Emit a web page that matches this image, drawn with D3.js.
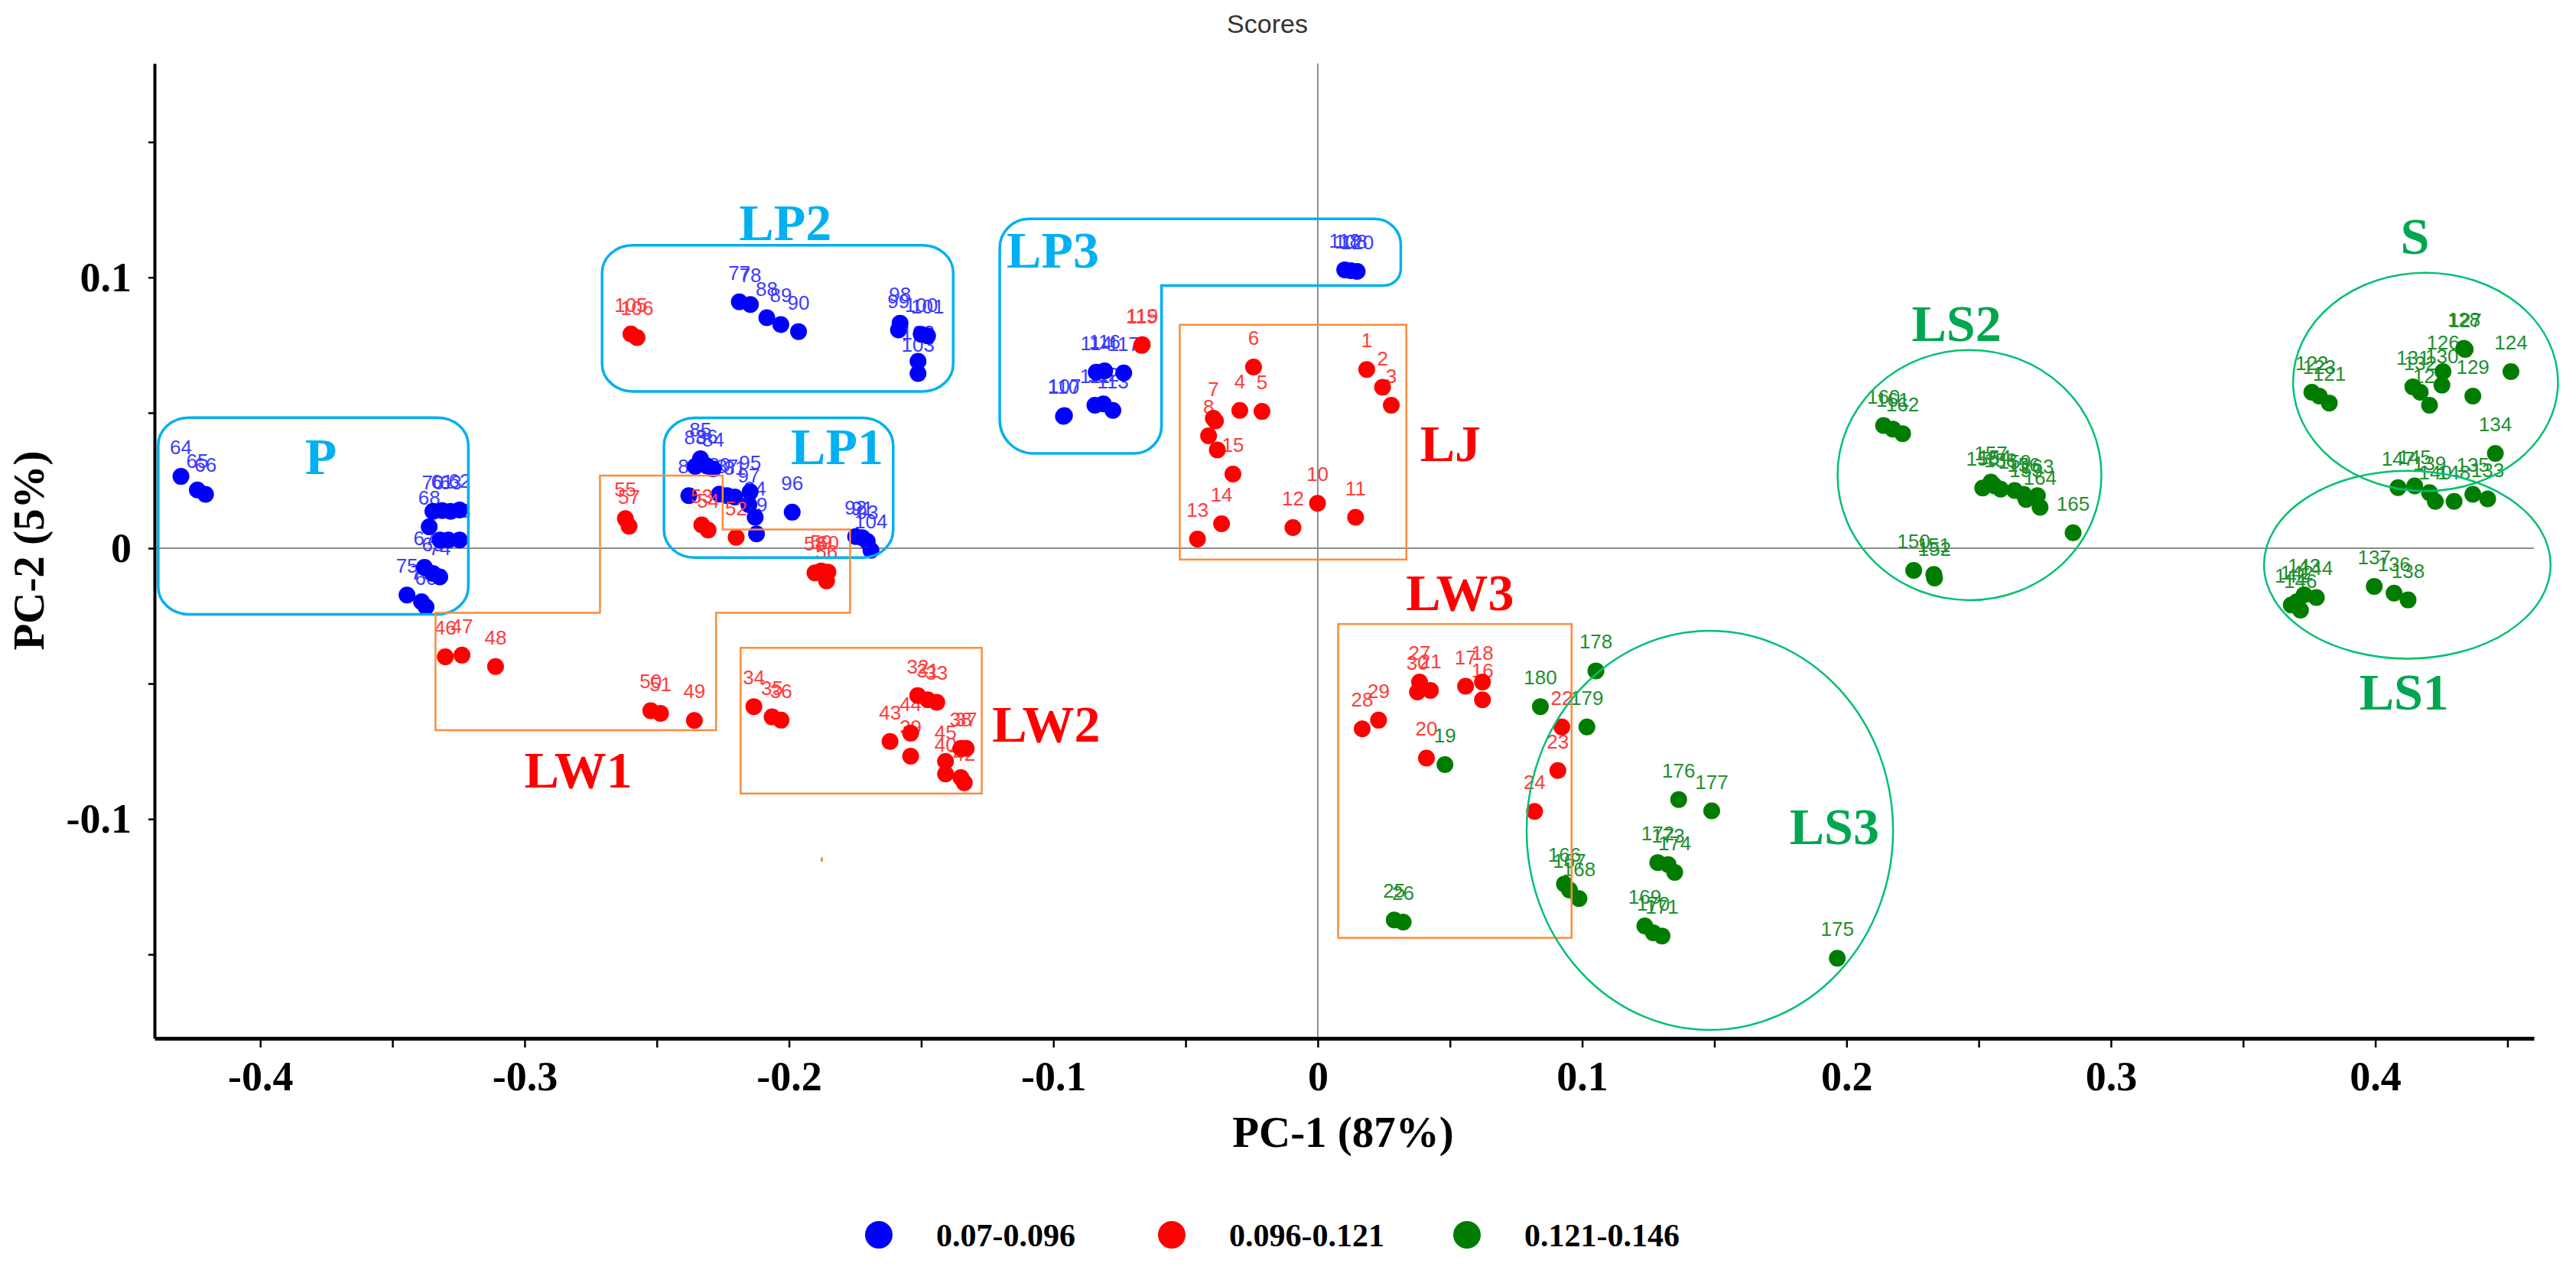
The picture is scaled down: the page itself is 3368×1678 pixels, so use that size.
<!DOCTYPE html>
<html>
<head>
<meta charset="utf-8">
<script src="https://cdn.jsdelivr.net/npm/d3@7"></script>
<style>
    body { margin: 0; background: #fff; }
    svg { display: block; }
</style>
</head>
<body>
<div id="scores-plot"></div>
<script>
// Score points: [sample label, PC-1, PC-2]
var bluePoints = [
    ["64", -0.430, 0.0265], ["65", -0.4238, 0.0215], ["66", -0.4207, 0.0199],
    ["70", -0.3347, 0.0136], ["61", -0.3312, 0.0139], ["63", -0.3280, 0.0136], ["62", -0.3246, 0.0141],
    ["68", -0.3361, 0.0079], ["71", -0.3320, 0.0030], ["72", -0.3288, 0.0030], ["73", -0.3246, 0.0030],
    ["67", -0.3379, -0.0071], ["69", -0.3347, -0.0093], ["74", -0.3321, -0.0106],
    ["75", -0.3445, -0.0173], ["76", -0.3390, -0.0198], ["60", -0.3373, -0.0217],
    ["85", -0.2335, 0.0330], ["83", -0.2355, 0.0302], ["86", -0.2311, 0.0304], ["84", -0.2287, 0.0293],
    ["82", -0.2379, 0.0194], ["80", -0.2263, 0.0200], ["87", -0.2234, 0.0194], ["81", -0.2205, 0.0189],
    ["95", -0.2147, 0.0208], ["97", -0.2152, 0.0161], ["94", -0.2128, 0.0114], ["79", -0.2123, 0.0053],
    ["96", -0.1988, 0.0133], ["92", -0.1748, 0.0043], ["91", -0.1723, 0.0039], ["93", -0.1704, 0.0025],
    ["104", -0.1690, -0.0008],
    ["77", -0.2188, 0.0910], ["78", -0.2146, 0.0900], ["88", -0.2084, 0.0851], ["89", -0.2031, 0.0826],
    ["90", -0.1964, 0.0800], ["98", -0.1580, 0.0831], ["99", -0.1586, 0.0806], ["101", -0.1476, 0.0784],
    ["100", -0.1500, 0.0790], ["102", -0.1512, 0.0690], ["103", -0.1512, 0.0645],
    ["110", -0.0962, 0.0487], ["107", -0.0958, 0.0490], ["111", -0.0843, 0.0528], ["112", -0.0811, 0.0533],
    ["113", -0.0775, 0.0509], ["114", -0.0838, 0.0650], ["116", -0.0806, 0.0655], ["117", -0.0734, 0.0647],
    ["118", 0.0102, 0.1028], ["108", 0.0125, 0.1025], ["120", 0.0149, 0.1022]
];

var redPoints = [
    ["1", 0.0185, 0.0660], ["2", 0.0245, 0.0594], ["3", 0.0278, 0.0528], ["4", -0.0295, 0.0509],
    ["5", -0.0211, 0.0505], ["6", -0.0243, 0.0669], ["7", -0.0395, 0.0480], ["", -0.0387, 0.0470],
    ["8", -0.0413, 0.0415], ["9", -0.0380, 0.0363], ["15", -0.0321, 0.0274], ["14", -0.0364, 0.0090],
    ["13", -0.0455, 0.0034], ["12", -0.0094, 0.0076], ["10", -0.0001, 0.0166], ["11", 0.0143, 0.0114],
    ["27", 0.0385, -0.0494], ["30", 0.0377, -0.0531], ["21", 0.0426, -0.0525], ["17", 0.0559, -0.0510],
    ["18", 0.0623, -0.0494], ["16", 0.0623, -0.0560], ["20", 0.0411, -0.0775], ["22", 0.0923, -0.0660],
    ["23", 0.0908, -0.0821], ["24", 0.0820, -0.0972], ["28", 0.0168, -0.0667], ["29", 0.0230, -0.0635],
    ["34", -0.2133, -0.0585], ["35", -0.2064, -0.0623], ["36", -0.2030, -0.0635], ["32", -0.1513, -0.0544],
    ["31", -0.1475, -0.0560], ["33", -0.1441, -0.0569], ["43", -0.1618, -0.0714], ["44", -0.1540, -0.0683],
    ["39", -0.1540, -0.0768], ["38", -0.1350, -0.0739], ["37", -0.1330, -0.0739], ["45", -0.1408, -0.0787],
    ["40", -0.1408, -0.0834], ["41", -0.1350, -0.0847], ["42", -0.1337, -0.0866],
    ["46", -0.3300, -0.0401], ["47", -0.3237, -0.0395], ["48", -0.3110, -0.0437], ["50", -0.2523, -0.0600],
    ["51", -0.2486, -0.0610], ["49", -0.2358, -0.0636], ["55", -0.2619, 0.0109], ["57", -0.2605, 0.0081],
    ["53", -0.2330, 0.0086], ["54", -0.2306, 0.0067], ["52", -0.2200, 0.0040], ["58", -0.1902, -0.0091],
    ["59", -0.1878, -0.0084], ["60", -0.1853, -0.0088], ["56", -0.1858, -0.0121],
    ["105", -0.2598, 0.0791], ["106", -0.2575, 0.0778], ["115", -0.0666, 0.0749], ["119", -0.0664, 0.0752]
];

var greenPoints = [
    ["19", 0.0481, -0.0799], ["25", 0.0289, -0.1373], ["26", 0.0323, -0.1381],
    ["178", 0.1052, -0.0453], ["180", 0.0842, -0.0585], ["179", 0.1018, -0.0660], ["176", 0.1365, -0.0928],
    ["177", 0.1490, -0.0970], ["172", 0.1286, -0.1161], ["173", 0.1325, -0.1168], ["174", 0.1350, -0.1197],
    ["166", 0.0933, -0.1240], ["167", 0.0952, -0.1262], ["168", 0.0988, -0.1294], ["169", 0.1237, -0.1395],
    ["170", 0.1269, -0.1420], ["171", 0.1302, -0.1432], ["175", 0.1965, -0.1514],
    ["160", 0.2140, 0.0453], ["161", 0.2175, 0.0440], ["162", 0.2212, 0.0423], ["155", 0.2515, 0.0222],
    ["157", 0.2546, 0.0244], ["154", 0.2560, 0.0230], ["158", 0.2583, 0.0218], ["159", 0.2636, 0.0213],
    ["156", 0.2670, 0.0199], ["153", 0.2679, 0.0180], ["163", 0.2722, 0.0194], ["164", 0.2732, 0.0151],
    ["165", 0.2857, 0.0057], ["150", 0.2254, -0.0082], ["151", 0.2330, -0.0097], ["152", 0.2333, -0.0110],
    ["122", 0.3760, 0.0576], ["123", 0.3788, 0.0562], ["121", 0.3826, 0.0536], ["127", 0.4340, 0.0734],
    ["128", 0.4335, 0.0738], ["126", 0.4256, 0.0652], ["131", 0.4142, 0.0596], ["132", 0.4170, 0.0576],
    ["130", 0.4252, 0.0602], ["125", 0.4205, 0.0528], ["129", 0.4369, 0.0562], ["124", 0.4513, 0.0652],
    ["134", 0.4454, 0.0350], ["147", 0.4086, 0.0224], ["145", 0.4149, 0.0230], ["139", 0.4205, 0.0205],
    ["140", 0.4227, 0.0173], ["148", 0.4298, 0.0173], ["135", 0.4369, 0.0199], ["133", 0.4425, 0.0182],
    ["141", 0.3682, -0.0210], ["142", 0.3703, -0.0198], ["143", 0.3731, -0.0172], ["144", 0.3777, -0.0182],
    ["146", 0.3717, -0.0229], ["137", 0.3996, -0.0141], ["136", 0.4071, -0.0166], ["138", 0.4124, -0.0191]
];

var legendLabels = ["0.07-0.096", "0.096-0.121", "0.121-0.146"];

var xMajorTicks = [-0.4, -0.3, -0.2, -0.1, 0, 0.1, 0.2, 0.3, 0.4];
var xTickLabels = ["-0.4", "-0.3", "-0.2", "-0.1", "0", "0.1", "0.2", "0.3", "0.4"];
var xMinorTicks = [-0.35, -0.25, -0.15, -0.05, 0.05, 0.15, 0.25, 0.35, 0.45];
var yMajorTicks = [-0.1, 0, 0.1];
var yTickLabels = ["-0.1", "0", "0.1"];
var yMinorTicks = [-0.15, -0.05, 0.05, 0.15];

// Group outlines in PC units
// rounded boxes: [x0, y0, x1, y1]
var lpBoxes = [
    [-0.4386, -0.0244, -0.3213, 0.0482],   // P
    [-0.2473, -0.0035, -0.1606, 0.0481],   // LP1
    [-0.2707, 0.0579, -0.1379, 0.1119]     // LP2
];
var lp3Outline = [[-0.1203, 0.1216], [0.0314, 0.1216], [0.0314, 0.097], [-0.0591, 0.097], [-0.0591, 0.035], [-0.1203, 0.035]];
var lw1Outline = [[-0.3337, -0.0239], [-0.2715, -0.0239], [-0.2715, 0.0268], [-0.2251, 0.0268], [-0.2251, 0.0069],
    [-0.1769, 0.0069], [-0.1769, -0.0239], [-0.2276, -0.0239], [-0.2276, -0.0672], [-0.3337, -0.0672]];
var lwBoxes = [
    [-0.0522, -0.0042, 0.0335, 0.0825],    // LJ
    [-0.2183, -0.0906, -0.1271, -0.0368],  // LW2
    [0.0077, -0.1439, 0.096, -0.028]       // LW3
];
// ellipses: [cx, cy, rx, ry]
var lsEllipses = [
    [0.2465, 0.027, 0.0499, 0.0462],       // LS2
    [0.4190, 0.0614, 0.0501, 0.0403],      // S
    [0.4121, -0.0061, 0.0542, 0.0347],     // LS1
    [0.1483, -0.1042, 0.0693, 0.0737]      // LS3
];

var groupNames = ["P", "LP1", "LP2", "LP3", "LJ", "LW1", "LW2", "LW3", "LS1", "LS2", "LS3", "S"];
var groupNameX = [-0.3771, -0.1818, -0.2014, -0.1002, 0.0502, -0.2797, -0.1027, 0.0538, 0.4109, 0.2416, 0.1954, 0.4150];
var groupNameY = [0.0274, 0.0310, 0.1137, 0.1037, 0.0322, -0.0884, -0.0714, -0.0229, -0.0595, 0.0764, -0.1092, 0.1087];

var width = 3368, height = 1678;
var serif = "'Liberation Serif', 'Times New Roman', serif";
var sans = "'Liberation Sans', Arial, sans-serif";

var cyan = "#00b0f0", orange = "#fb8c3c", mint = "#00c070";
var groupColor = function(name) {
    if (name.charAt(0) === "P" || name.slice(0, 2) === "LP") return cyan;
    if (name === "LJ" || name.slice(0, 2) === "LW") return "#ff0000";
    return "#00a650";
};

var svg = d3.select('#scores-plot').append('svg')
    .attr('width', width)
    .attr('height', height);

var x = d3.scaleLinear().domain([-0.44, 0.46]).range([202, 3313]);
var y = d3.scaleLinear().domain([-0.181, 0.179]).range([1358, 83]);

// Title
svg.append('text')
    .attr('x', 1657).attr('y', 43)
    .attr('text-anchor', 'middle')
    .style('font-family', sans).style('font-size', '34px').style('fill', '#333')
    .text('Scores');

// Zero lines
svg.append('line')
    .attr('x1', x(0)).attr('x2', x(0)).attr('y1', y.range()[1]).attr('y2', y.range()[0])
    .attr('stroke', '#8c8c8c').attr('stroke-width', 2);
svg.append('line')
    .attr('x1', x.range()[0]).attr('x2', x.range()[1]).attr('y1', y(0)).attr('y2', y(0))
    .attr('stroke', '#8c8c8c').attr('stroke-width', 2);

// Axes (hyphen minus labels, minor ticks unlabeled)
var xAxis = d3.axisBottom(x)
    .tickValues(xMajorTicks.concat(xMinorTicks))
    .tickFormat(function(d) { var i = xMajorTicks.indexOf(d); return i >= 0 ? xTickLabels[i] : ''; })
    .tickSize(12).tickSizeOuter(0).tickPadding(18);
var yAxis = d3.axisLeft(y)
    .tickValues(yMajorTicks.concat(yMinorTicks))
    .tickFormat(function(d) { var i = yMajorTicks.indexOf(d); return i >= 0 ? yTickLabels[i] : ''; })
    .tickSize(8).tickSizeOuter(0).tickPadding(22);

var gx = svg.append('g')
    .attr('transform', 'translate(0,' + y.range()[0] + ')')
    .call(xAxis);
gx.select('.domain').attr('stroke-width', 5);
var gy = svg.append('g')
    .attr('transform', 'translate(' + x.range()[0] + ',0)')
    .call(yAxis);
gy.select('.domain').attr('stroke-width', 4);

svg.selectAll('.tick line').attr('stroke-width', 2.5);
svg.selectAll('.tick text')
    .style('font-family', serif).style('font-size', '54px').style('font-weight', 'bold').attr('fill', '#000');

// Axis titles
svg.append('text')
    .attr('x', 1756).attr('y', 1500)
    .attr('text-anchor', 'middle')
    .style('font-family', serif).style('font-size', '57px').style('font-weight', 'bold')
    .text('PC-1 (87%)');
svg.append('text')
    .attr('transform', 'translate(57,720) rotate(-90)')
    .attr('text-anchor', 'middle')
    .style('font-family', serif).style('font-size', '57px').style('font-weight', 'bold')
    .text('PC-2 (5%)');

// Draw the score points with their sample numbers
var series = [
    {pts: bluePoints, dot: '#0000ff', txt: '#3c3cff'},
    {pts: redPoints, dot: '#ff0000', txt: '#ff3c3c'},
    {pts: greenPoints, dot: '#007d00', txt: '#1f8f2f'}
];
var pointHolder = svg.append('g').classed('points', true);
series.forEach(function(s) {
    var g = pointHolder.append('g');
    g.selectAll('text')
        .data(s.pts)
        .enter()
        .append('text')
        .attr('x', function(d) { return x(d[1]); })
        .attr('y', function(d) { return y(d[2]) - 29; })
        .attr('text-anchor', 'middle')
        .style('font-family', sans).style('font-size', '26px')
        .attr('fill', s.txt)
        .text(function(d) { return d[0]; });
    g.selectAll('circle')
        .data(s.pts)
        .enter()
        .append('circle')
        .attr('cx', function(d) { return x(d[1]); })
        .attr('cy', function(d) { return y(d[2]); })
        .attr('r', 11)
        .attr('fill', s.dot);
});

// Group outlines
var outlines = svg.append('g').attr('fill', 'none');

outlines.selectAll('rect.lp')
    .data(lpBoxes)
    .enter()
    .append('rect')
    .attr('x', function(d) { return x(d[0]); })
    .attr('y', function(d) { return y(d[3]); })
    .attr('width', function(d) { return x(d[2]) - x(d[0]); })
    .attr('height', function(d) { return y(d[1]) - y(d[3]); })
    .attr('rx', 40).attr('ry', 36)
    .attr('stroke', cyan).attr('stroke-width', 3.5);

// rounded polygon for LP3 (inner step corner kept sharp)
function roundedPath(pts, radii) {
    var p = d3.path();
    var n = pts.length;
    var px = function(i) { return x(pts[(i + n) % n][0]); };
    var py = function(i) { return y(pts[(i + n) % n][1]); };
    p.moveTo((px(n - 1) + px(0)) / 2, (py(n - 1) + py(0)) / 2);
    for (var i = 0; i < n; i++) {
        p.arcTo(px(i), py(i), px(i + 1), py(i + 1), radii[i]);
    }
    p.closePath();
    return p.toString();
}
outlines.append('path')
    .attr('d', roundedPath(lp3Outline, [38, 34, 22, 0, 36, 44]))
    .attr('stroke', cyan).attr('stroke-width', 3.5);

outlines.append('path')
    .attr('d', roundedPath(lw1Outline, [0, 0, 0, 0, 0, 0, 0, 0, 0, 0]))
    .attr('stroke', orange).attr('stroke-width', 2.5);

outlines.selectAll('rect.lw')
    .data(lwBoxes)
    .enter()
    .append('rect')
    .attr('x', function(d) { return x(d[0]); })
    .attr('y', function(d) { return y(d[3]); })
    .attr('width', function(d) { return x(d[2]) - x(d[0]); })
    .attr('height', function(d) { return y(d[1]) - y(d[3]); })
    .attr('stroke', orange).attr('stroke-width', 2.5);

outlines.selectAll('ellipse')
    .data(lsEllipses)
    .enter()
    .append('ellipse')
    .attr('cx', function(d) { return x(d[0]); })
    .attr('cy', function(d) { return y(d[1]); })
    .attr('rx', function(d) { return x(d[0] + d[2]) - x(d[0]); })
    .attr('ry', function(d) { return y(d[1] - d[3]) - y(d[1]); })
    .attr('stroke', mint).attr('stroke-width', 2.5);

// small orange stray mark below LW1
outlines.append('line')
    .attr('x1', x(-0.1876)).attr('x2', x(-0.1876))
    .attr('y1', y(-0.1142)).attr('y2', y(-0.1158))
    .attr('stroke', orange).attr('stroke-width', 3);

// Group names
svg.append('g').selectAll('text')
    .data(groupNames)
    .enter()
    .append('text')
    .attr('x', function(d, i) { return x(groupNameX[i]); })
    .attr('y', function(d, i) { return y(groupNameY[i]); })
    .attr('text-anchor', 'middle')
    .style('font-family', serif).style('font-size', '68px').style('font-weight', 'bold')
    .attr('fill', function(d) { return groupColor(d); })
    .text(function(d) { return d; });

// Legend
var legendDots = ['#0000ff', '#ff0000', '#007d00'];
var legendX = [1149, 1532, 1918];
var legend = svg.append('g').selectAll('g')
    .data(legendLabels)
    .enter()
    .append('g')
    .attr('transform', function(d, i) { return 'translate(' + legendX[i] + ',1615)'; });
legend.append('circle')
    .attr('r', 18)
    .attr('fill', function(d, i) { return legendDots[i]; });
legend.append('text')
    .attr('x', 75).attr('y', 15)
    .style('font-family', serif).style('font-size', '42px').style('font-weight', 'bold')
    .text(function(d) { return d; });
</script>
</body>
</html>
